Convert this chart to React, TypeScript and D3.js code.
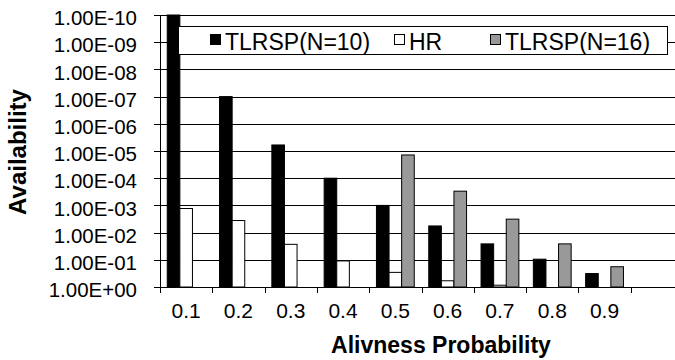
import React from 'react';
import * as d3 from 'd3';

// categories (the last slot is empty and runs past the right edge)
const categories = ['0.1', '0.2', '0.3', '0.4', '0.5', '0.6', '0.7', '0.8', '0.9', ''];
const seriesNames = ['TLRSP(N=10)', 'HR', 'TLRSP(N=16)'];
const tlrsp10: (number | null)[] = [1e-10, 1e-7, 6e-6, 1e-4, 1e-3, 5.7e-3, 2.6e-2, 9.5e-2, 0.32, null];
const hr: (number | null)[] = [1.3e-3, 3.6e-3, 2.7e-2, 1.1e-1, 0.29, 0.59, 0.86, null, null, null];
const tlrsp16: (number | null)[] = [null, null, null, null, 1.4e-5, 3e-4, 3.2e-3, 2.6e-2, 0.18, null];
const yTicks = [1, 1e-1, 1e-2, 1e-3, 1e-4, 1e-5, 1e-6, 1e-7, 1e-8, 1e-9, 1e-10];
const yTickLabels = ['1.00E+00', '1.00E-01', '1.00E-02', '1.00E-03', '1.00E-04', '1.00E-05', '1.00E-06', '1.00E-07', '1.00E-08', '1.00E-09', '1.00E-10'];

const fills = ['#000000', '#ffffff', '#999999'];
const FONT = 'Arial, "Liberation Sans", sans-serif';

export default function App() {
  const W = 675, H = 360;
  const plot = { left: 160, top: 15, bottom: 287, right: 683 };

  const x = d3.scaleBand<string>().domain(categories.map((_, i) => String(i))).range([plot.left, plot.right]);
  const xs = d3.scaleBand<string>().domain(seriesNames).range([0, x.bandwidth()]).paddingOuter(0.575);
  const y = d3.scaleLog().domain([1, 1e-10]).range([plot.bottom, plot.top]);

  const allSeries = [tlrsp10, hr, tlrsp16];

  return (
    <div style={{ position: 'fixed', left: 0, top: 0 }}>
      <svg width={W} height={H} style={{ display: 'block', background: '#fff' }} fontFamily={FONT}>
        {/* gridlines */}
        {yTicks.slice(1).map((t) => (
          <line key={t} x1={plot.left} x2={W} y1={Math.round(y(t)) + 0.5} y2={Math.round(y(t)) + 0.5} stroke="#000" strokeWidth={1} />
        ))}

        {/* bars */}
        {allSeries.map((vals, si) =>
          vals.map((v, ci) => {
            if (v == null) return null;
            const bx = (x(String(ci)) as number) + (xs(seriesNames[si]) as number);
            const top = y(v);
            return (
              <rect key={si + '-' + ci} x={bx} y={top} width={xs.bandwidth()} height={plot.bottom - top}
                fill={fills[si]} stroke="#000" strokeWidth={1} />
            );
          })
        )}

        {/* axes */}
        <line x1={plot.left + 0.5} x2={plot.left + 0.5} y1={plot.top} y2={plot.bottom + 0.5} stroke="#000" />
        <line x1={plot.left} x2={W} y1={plot.bottom + 0.5} y2={plot.bottom + 0.5} stroke="#000" />
        {yTicks.map((t, i) => (
          <g key={t}>
            <line x1={plot.left - 6} x2={plot.left} y1={Math.round(y(t)) + 0.5} y2={Math.round(y(t)) + 0.5} stroke="#000" />
            <text x={137} y={y(t) + 3} dy="0.35em" textAnchor="end" fontSize={20.5} fill="#000">{yTickLabels[i]}</text>
          </g>
        ))}
        {categories.map((c, i) => (
          <g key={i}>
            <line x1={Math.round(x(String(i)) as number) + 0.5} x2={Math.round(x(String(i)) as number) + 0.5}
              y1={plot.bottom} y2={plot.bottom + 6} stroke="#000" />
            <text x={(x(String(i)) as number) + x.bandwidth() / 2} y={318} textAnchor="middle" fontSize={21} fill="#000">{c}</text>
          </g>
        ))}

        {/* axis titles */}
        <text x={441} y={353} textAnchor="middle" fontSize={23} fontWeight="bold" fill="#000">Alivness Probability</text>
        <text transform="translate(26,152) rotate(-90)" textAnchor="middle" fontSize={24} fontWeight="bold" fill="#000">Availability</text>

        {/* legend */}
        <rect x={178.5} y={26.5} width={489} height={28} fill="#fff" stroke="#000" />
        {[{ mx: 210, tx: 225 }, { mx: 394, tx: 409 }, { mx: 490, tx: 505 }].map((p, i) => (
          <g key={i}>
            <rect x={p.mx + 0.5} y={34.5} width={10} height={10} fill={fills[i]} stroke="#000" />
            <text x={p.tx} y={49.5} fontSize={23} fill="#000">{seriesNames[i]}</text>
          </g>
        ))}
      </svg>
    </div>
  );
}
